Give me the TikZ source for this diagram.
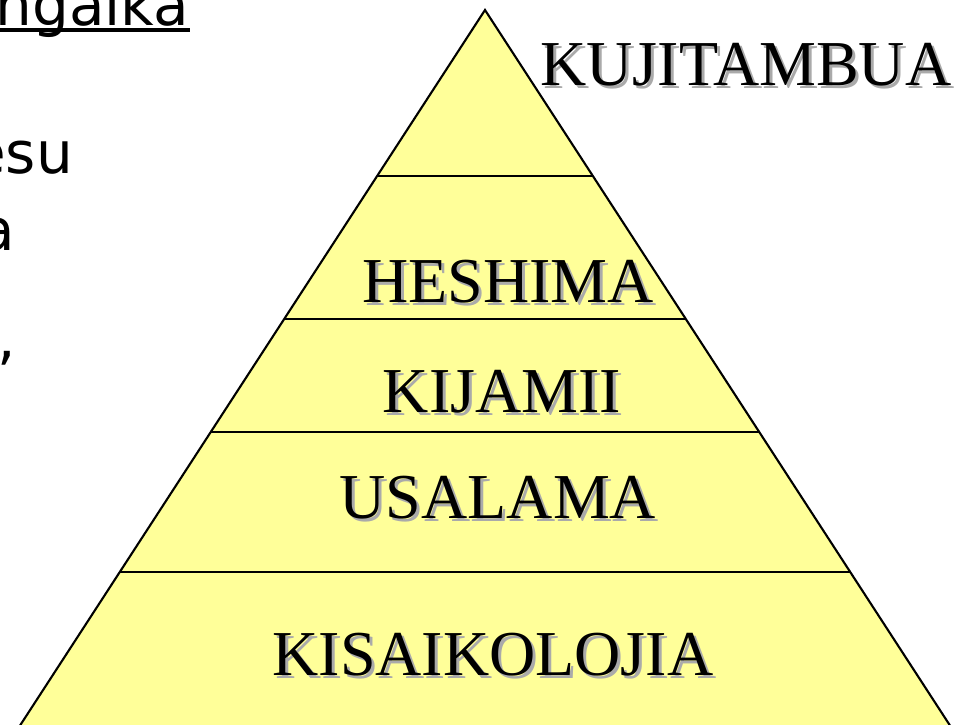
\documentclass[tikz,border=0pt]{standalone}
\usepackage{fontspec}
\setmainfont{Liberation Serif}
\newfontfamily\handfont{DejaVu Sans}
\usetikzlibrary{calc}
\definecolor{pyrfill}{HTML}{FFFF99}
\definecolor{shadecol}{HTML}{AAAAAA}
\begin{document}
\begin{tikzpicture}[x=1pt,y=-1pt,
  edge/.style={line width=2.1pt, line join=miter},
  divider/.style={line width=2.1pt},
  lbl/.style={font=\fontsize{64}{64}\selectfont, inner sep=0pt, anchor=base, text=black},
  shd/.style={font=\fontsize{64}{64}\selectfont, inner sep=0pt, anchor=base, text=shadecol},
  hand/.style={font=\handfont\fontsize{58}{58}\selectfont, inner sep=0pt, anchor=base east}]
\useasboundingbox (0,0) rectangle (974,724);
\clip (0,0) rectangle (974,724);
% pyramid
\coordinate (apex) at (485,10);
\coordinate (bl) at (14.5,734);
\coordinate (br) at (955.5,734);
\filldraw[edge, fill=pyrfill] (apex) -- (bl) -- (br) -- cycle;
\foreach \t/\n in {0.2293/a, 0.4268/b, 0.5829/c, 0.7762/d}{
  \coordinate (L\n) at ($(apex)!\t!(bl)$);
  \coordinate (R\n) at ($(apex)!\t!(br)$);
  \draw[divider] (L\n) -- (R\n);
}
% labels with shadows
\node[shd] (kujiS) at (749,88) {KUJITAMBUA};
\node[lbl] (kuji) at (746,85) {KUJITAMBUA};
\node[shd] (heshS) at (511,305) {HESHIMA};
\node[lbl] (hesh) at (508,302) {HESHIMA};
\node[shd] (kijaS) at (505,415) {KIJAMII};
\node[lbl] (kija) at (502,412) {KIJAMII};
\node[shd] (usalS) at (501,521) {USALAMA};
\node[lbl] (usal) at (498,518) {USALAMA};
\node[shd] (kisaS) at (496,678) {KISAIKOLOJIA};
\node[lbl] (kisa) at (493,675) {KISAIKOLOJIA};
% clipped text on the left
\node[hand] (t1) at (189,25) {ngaika};
\coordinate (ulA) at (0,30);
\coordinate (ulB) at (190,30);
\draw[line width=4.5pt] (ulA) -- (ulB);
\node[hand] (t2) at (73,173) {esu};
\node[hand] (t3) at (15,250) {a};
\node[hand] (t4) at (16,358) {,};
\end{tikzpicture}
\end{document}
